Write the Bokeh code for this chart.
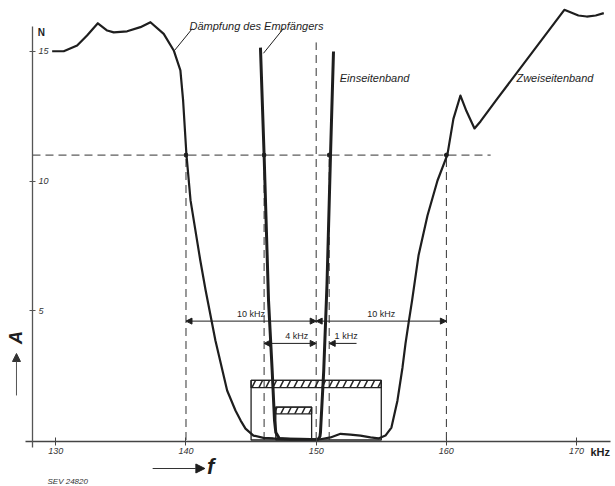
from bokeh.plotting import figure
from bokeh.models import FixedTicker, ColumnDataSource, Arrow, NormalHead, Range1d, LinearAxis
from bokeh.core.properties import value
from bokeh.embed import file_html
from bokeh.resources import INLINE

# ---------------- data ----------------
x_ticks = [130, 140, 150, 160, 170]
y_ticks = [5, 10, 15]

# Dämpfung des Empfängers – Zweiseitenband (kHz, Neper)
zwei_f = [129.72, 130.61, 131.64, 132.40, 133.23, 133.95, 134.45, 135.48, 136.50, 137.27,
          138.29, 139.06, 139.57, 139.78, 140.03, 140.35, 141.10, 141.50, 142.26, 143.16,
          143.80, 144.20, 144.57, 145.18, 145.95, 146.72, 148.80, 150.33, 151.10, 151.87,
          152.63, 153.40, 154.17, 154.79, 155.32, 155.78, 156.24, 156.63, 156.86, 157.11,
          157.37, 157.86, 158.55, 159.32, 160.08, 160.54, 161.08, 161.54, 162.16, 162.62,
          163.90, 169.06, 170.14, 170.78, 171.47, 172.09]
zwei_a = [15.01, 15.01, 15.23, 15.62, 16.09, 15.81, 15.74, 15.78, 15.94, 16.13,
          15.68, 15.04, 14.27, 13.10, 11.05, 9.25, 6.93, 5.80, 3.84, 1.91,
          1.14, 0.75, 0.44, 0.17, 0.08, 0.06, 0.04, 0.03, 0.10, 0.24,
          0.21, 0.17, 0.10, 0.06, 0.17, 0.48, 1.52, 2.80, 3.72, 4.56,
          5.40, 7.12, 8.67, 10.02, 11.02, 12.40, 13.30, 12.70, 12.03, 12.30,
          13.17, 16.61, 16.39, 16.35, 16.39, 16.48]

# Dämpfung des Empfängers – Einseitenband
ein_f = [145.72, 146.00, 146.34, 146.62, 146.80, 146.90, 147.17, 148.41, 149.95, 150.18,
         150.29, 150.33, 150.58, 150.83, 151.10, 151.33]
ein_a = [15.15, 11.00, 5.38, 2.68, 0.75, 0.29, 0.06, 0.00, 0.00, 0.04,
         0.14, 0.30, 2.68, 6.00, 11.00, 15.00]

level = 11.0                       # Bezugsdämpfung (N)
bw_edges = [140, 146, 151, 160]    # Schnittpunkte mit 11 N
carrier = 150
carrier_top = 15.35

# Frequenzbänder (Rechtecke, schraffierter Streifen oben)
band_left = [145.0, 146.9]
band_right = [155.0, 149.65]
band_top = [2.30, 1.27]
band_hatch_bottom = [2.02, 1.01]

# Bemaßung
dim_start = [140, 150, 146]
dim_end = [150, 160, 150]
dim_level = [4.59, 4.59, 3.73]
dim_label_x = [145.0, 155.0, 148.5, 152.3]
dim_label_y = [4.59, 4.59, 3.73, 3.73]
dim_labels = ["10 kHz", "10 kHz", "4 kHz", "1 kHz"]
one_start = [153.1]
one_end = [151.0]
one_level = [3.73]

# Beschriftungen der Kurven
curve_labels = ["Dämpfung des Empfängers", "Einseitenband", "Zweiseitenband"]
curve_label_x = [140.27, 151.81, 165.38]
curve_label_y = [16.0, 13.96, 13.96]
leader_x0 = [140.48, 147.49]
leader_y0 = [15.88, 15.89]
leader_x1 = [139.12, 145.95]
leader_y1 = [15.04, 14.93]

# ---------------- figure ----------------
X0, X1 = 125.753, 172.99
Y0, Y1 = -1.795, 16.969
AX_X = 128.21      # position of the A axis (kHz)
AX_Y = -0.058      # position of the f axis (N)
ink = "#1e1e1e"
FONT = "Liberation Sans"

p = figure(width=615, height=486, x_range=Range1d(X0, X1), y_range=Range1d(Y0, Y1),
           output_backend="svg", toolbar_location=None,
           x_axis_location=None, y_axis_location=None,
           min_border=0, min_border_left=0, min_border_right=0,
           min_border_top=0, min_border_bottom=0)
p.outline_line_color = None
p.xgrid.visible = False
p.ygrid.visible = False
p.background_fill_color = "white"
p.border_fill_color = "white"

xa = LinearAxis(fixed_location=AX_Y, bounds=(127.67, 172.6))
xa.ticker = FixedTicker(ticks=x_ticks)
xa.minor_tick_line_color = None
xa.major_tick_in = 4
xa.major_tick_out = 4
xa.axis_line_color = "#444444"
xa.axis_line_width = 1.3
xa.major_tick_line_color = "#444444"
xa.major_label_text_font = FONT
xa.major_label_text_font_style = "italic"
xa.major_label_text_font_size = "9px"
xa.major_label_text_color = "#333333"
xa.major_label_standoff = 2
p.add_layout(xa, "below")

ya = LinearAxis(fixed_location=AX_X, bounds=(-0.29, 15.97))
ya.ticker = FixedTicker(ticks=y_ticks)
ya.minor_tick_line_color = None
ya.major_tick_in = 3
ya.major_tick_out = 3
ya.axis_line_color = "#555555"
ya.axis_line_width = 1.3
ya.major_tick_line_color = "#555555"
ya.major_label_text_font = FONT
ya.major_label_text_font_style = "italic"
ya.major_label_text_font_size = "9px"
ya.major_label_text_color = "#333333"
ya.major_label_standoff = 3
ya.major_label_orientation = "horizontal"
p.add_layout(ya, "right")

p.text(x=[AX_X + 0.4], y=[15.73], text=["N"], text_font=value(FONT), text_font_style="bold",
       text_font_size="10px", text_align="left", text_baseline="middle", text_color=ink)

# dashed construction lines
p.segment(x0=[AX_X], y0=[level], x1=[163.4], y1=[level], line_dash="8 5", line_color="#333333", line_width=1)
p.segment(x0=bw_edges, y0=[0] * len(bw_edges), x1=bw_edges, y1=[level] * len(bw_edges),
          line_dash="8 5", line_color="#333333", line_width=1)
p.segment(x0=[carrier], y0=[0], x1=[carrier], y1=[carrier_top],
          line_dash="8 5", line_color="#333333", line_width=1)

# frequency bands
p.quad(left=band_left, right=band_right, bottom=band_hatch_bottom, top=band_top,
       fill_color=None, line_color=None, hatch_pattern="/", hatch_color="#222222",
       hatch_scale=14, hatch_weight=1.5)
p.quad(left=band_left, right=band_right, bottom=band_hatch_bottom, top=band_top,
       fill_color=None, line_color="#222222", line_width=1.3)
p.quad(left=band_left, right=band_right, bottom=[0, 0], top=band_top,
       fill_color=None, line_color="#222222", line_width=1.3)

# curves
p.line(zwei_f, zwei_a, line_width=2.2, line_color=ink, line_join="round")
p.line(ein_f, ein_a, line_width=3.0, line_color=ink, line_join="round")

# points on 11 N
p.scatter(bw_edges, [level] * len(bw_edges), size=4, color=ink)

# dimension arrows
dsrc = ColumnDataSource(dict(x0=dim_start, x1=dim_end, y=dim_level))
p.add_layout(Arrow(start=NormalHead(size=6, fill_color=ink, line_color=ink),
                   end=NormalHead(size=6, fill_color=ink, line_color=ink),
                   x_start="x0", y_start="y", x_end="x1", y_end="y",
                   source=dsrc, line_width=1, line_color=ink))
osrc = ColumnDataSource(dict(x0=one_start, x1=one_end, y=one_level))
p.add_layout(Arrow(end=NormalHead(size=6, fill_color=ink, line_color=ink),
                   x_start="x0", y_start="y", x_end="x1", y_end="y",
                   source=osrc, line_width=1, line_color=ink))
p.text(x=dim_label_x, y=[v + 0.08 for v in dim_label_y], text=dim_labels,
       text_font=value(FONT), text_font_size="9px", text_align="center",
       text_baseline="bottom", text_color=ink)

# curve labels + leaders
p.text(x=curve_label_x, y=curve_label_y, text=curve_labels, text_font=value(FONT),
       text_font_style="italic", text_font_size="11px", text_align="left",
       text_baseline="middle", text_color=ink)
p.segment(x0=leader_x0, y0=leader_y0, x1=leader_x1, y1=leader_y1, line_color=ink, line_width=1)

# axis titles and notes
p.text(x=[171.07], y=[-0.48], text=["kHz"], text_font=value(FONT), text_font_style="bold",
       text_font_size="11px", text_baseline="middle", text_align="left", text_color=ink)
p.text(x=[126.98], y=[3.96], text=["A"], angle=1.5708, text_font=value(FONT),
       text_font_style="bold italic", text_font_size="18px",
       text_align="center", text_baseline="middle", text_color=ink)
p.add_layout(Arrow(end=NormalHead(size=8, fill_color="#333333", line_color="#333333"),
                   x_start=126.98, y_start=1.72, x_end=126.98, y_end=3.34,
                   line_width=1, line_color="#555555"))
p.add_layout(Arrow(end=NormalHead(size=9, fill_color=ink, line_color=ink),
                   x_start=137.44, y_start=-1.10, x_end=141.45, y_end=-1.10,
                   line_width=1.2, line_color="#333333"))
p.text(x=[141.62], y=[-1.02], text=["f"], text_font=value(FONT), text_font_style="bold italic",
       text_font_size="22px", text_baseline="middle", text_align="left", text_color=ink)
p.text(x=[129.36], y=[-1.60], text=["SEV 24820"], text_font=value(FONT), text_font_style="italic",
       text_font_size="8px", text_baseline="middle", text_align="left", text_color="#333333")

open("out.html", "w").write(file_html(p, INLINE))
